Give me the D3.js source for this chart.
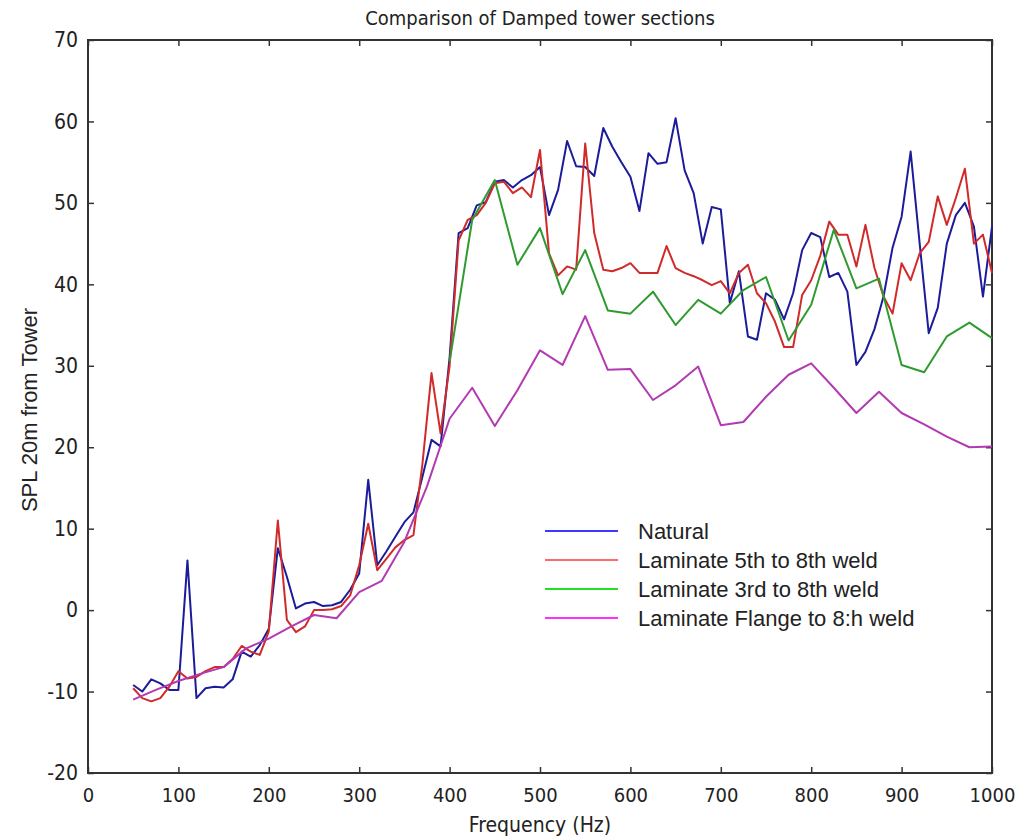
<!DOCTYPE html>
<html>
<head>
<meta charset="utf-8">
<script src="https://cdn.jsdelivr.net/npm/d3@7"></script>
<style>
  body { margin: 0; background: #fff; }
  .tick text { font-family: "DejaVu Sans Condensed", "DejaVu Sans", sans-serif; fill: #222; }
</style>
</head>
<body>
<div id="chart"></div>
<script>
// frequencies (Hz) for the two finely sampled series
var freqFine = [50, 60, 70, 80, 90, 100, 110, 120, 130, 140, 150, 160, 170, 180, 190, 200,
  210, 220, 230, 240, 250, 260, 270, 280, 290, 300, 310, 320, 330, 340, 350, 360, 370, 380, 390, 400,
  410, 420, 430, 440, 450, 460, 470, 480, 490, 500, 510, 520, 530, 540, 550, 560, 570, 580, 590, 600,
  610, 620, 630, 640, 650, 660, 670, 680, 690, 700, 710, 720, 730, 740, 750, 760, 770, 780, 790, 800,
  810, 820, 830, 840, 850, 860, 870, 880, 890, 900, 910, 920, 930, 940, 950, 960, 970, 980, 990, 1000];

// frequencies (Hz) for the coarser series
var freqCoarse = [50, 75, 100, 125, 150, 175, 200, 225, 250, 275, 300, 325, 350, 375, 400, 425, 450,
  475, 500, 525, 550, 575, 600, 625, 650, 675, 700, 725, 750, 775, 800, 825, 850, 875, 900, 925, 950, 975, 1000];

var freqGreen = [400, 425, 450, 475, 500, 525, 550, 575, 600, 625, 650, 675, 700, 725, 750,
  775, 800, 825, 850, 875, 900, 925, 950, 975, 1000];

var natural = [-9.2, -10.0, -8.5, -9.0, -9.8, -9.8, 6.1, -10.8, -9.6, -9.4, -9.5, -8.5, -5.1, -5.7, -4.3, -2.3,
  7.6, 4.1, 0.2, 0.8, 1.0, 0.5, 0.6, 1.0, 2.5, 4.5, 16.0, 5.5, 7.2, 9.0, 10.8, 12.0, 16.4, 20.9, 20.1, 31.0,
  46.3, 46.9, 49.7, 50.1, 52.6, 52.8, 51.9, 52.8, 53.4, 54.4, 48.5, 51.6, 57.6, 54.5, 54.4, 53.3, 59.2, 56.9, 55.0, 53.2,
  49.0, 56.1, 54.8, 55.0, 60.4, 54.0, 51.2, 45.0, 49.5, 49.2, 37.7, 41.6, 33.6, 33.2, 38.9, 38.1, 35.7, 38.9, 44.2, 46.3,
  45.8, 40.9, 41.4, 39.1, 30.1, 31.7, 34.5, 38.5, 44.5, 48.3, 56.3, 45.0, 34.0, 37.1, 45.0, 48.5, 50.0, 47.1, 38.5, 47.1];

var lam5to8 = [-9.6, -10.8, -11.2, -10.8, -9.4, -7.5, -8.4, -8.2, -7.5, -7.0, -7.0, -6.0, -4.4, -5.1, -5.5, -2.6,
  11.0, -1.2, -2.7, -2.0, 0.0, 0.0, 0.1, 0.5, 1.8, 5.5, 10.6, 4.9, 6.3, 7.7, 8.6, 9.2, 18.0, 29.1, 21.7, 30.0,
  45.4, 47.9, 48.5, 50.0, 52.4, 52.6, 51.2, 51.9, 50.7, 56.5, 43.8, 41.1, 42.2, 41.8, 57.3, 46.3, 41.8, 41.6, 42.0, 42.6,
  41.4, 41.4, 41.4, 44.7, 42.0, 41.4, 41.0, 40.5, 39.9, 40.4, 38.9, 41.4, 42.4, 38.9, 37.7, 35.4, 32.3, 32.3, 38.7, 40.5,
  43.5, 47.7, 46.1, 46.1, 42.2, 47.3, 42.0, 38.5, 36.4, 42.6, 40.5, 43.8, 45.2, 50.8, 47.3, 50.6, 54.2, 45.0, 46.1, 41.4];

var lam3to8 = [30.5, 47.9, 52.8, 42.4, 46.9, 38.8, 44.2, 36.8, 36.4, 39.1, 35.0, 38.1, 36.4, 39.3, 40.9,
  33.1, 37.5, 46.7, 39.5, 40.7, 30.1, 29.2, 33.6, 35.3, 33.4];

var lamFlange = [-11.0, -9.8, -8.7, -7.8, -7.0, -4.7, -3.5, -2.0, -0.6, -1.0, 2.2, 3.6, 8.4, 15.2, 23.5, 27.3, 22.6,
  27.0, 31.9, 30.1, 36.1, 29.5, 29.6, 25.8, 27.6, 29.9, 22.7, 23.1, 26.2, 28.9, 30.3, 27.3, 24.2, 26.8, 24.2, 22.8, 21.3, 20.0, 20.1];

var seriesNames = ["Natural", "Laminate 5th to 8th weld", "Laminate 3rd to 8th weld", "Laminate Flange to 8:h weld"];
var lineColors = ["#1c1c9a", "#d12a2a", "#2f9a2f", "#b23ab2"];
var legendColors = ["#3a3aff", "#ff6b6b", "#22e022", "#ff30ff"];
var xTicks = [0, 100, 200, 300, 400, 500, 600, 700, 800, 900, 1000];
var yTicks = [-20, -10, 0, 10, 20, 30, 40, 50, 60, 70];

var svgWidth = 1032, svgHeight = 838;
var plotLeft = 88, plotRight = 992, plotTop = 40, plotBottom = 773;

var svg = d3.select("#chart").append("svg")
  .attr("width", svgWidth)
  .attr("height", svgHeight);

var x = d3.scaleLinear().domain([0, 1000]).range([plotLeft, plotRight]);
var y = d3.scaleLinear().domain([-20, 70]).range([plotBottom, plotTop]);

// axes with inward ticks on all four sides
svg.append("g")
  .attr("transform", "translate(0," + plotBottom + ")")
  .call(d3.axisBottom(x).tickValues(xTicks).tickSizeInner(-6).tickSizeOuter(0).tickPadding(15)
    .tickFormat(function (d) { return String(d); }))
  .call(function (g) { g.select(".domain").remove(); })
  .selectAll("text").style("font-size", "20px");

svg.append("g")
  .attr("transform", "translate(0," + plotTop + ")")
  .call(d3.axisTop(x).tickValues(xTicks).tickSizeInner(-6).tickSizeOuter(0).tickFormat(""))
  .call(function (g) { g.select(".domain").remove(); });

svg.append("g")
  .attr("transform", "translate(" + plotLeft + ",0)")
  .call(d3.axisLeft(y).tickValues(yTicks).tickSizeInner(-6).tickSizeOuter(0).tickPadding(10)
    .tickFormat(function (d) { return String(d); }))
  .call(function (g) { g.select(".domain").remove(); })
  .selectAll("text").style("font-size", "21px");

svg.append("g")
  .attr("transform", "translate(" + plotRight + ",0)")
  .call(d3.axisRight(y).tickValues(yTicks).tickSizeInner(-6).tickSizeOuter(0).tickFormat(""))
  .call(function (g) { g.select(".domain").remove(); });

svg.selectAll(".tick line").attr("stroke", "#333").attr("stroke-width", 1.5);

// frame
svg.append("rect")
  .attr("x", plotLeft).attr("y", plotTop)
  .attr("width", plotRight - plotLeft).attr("height", plotBottom - plotTop)
  .attr("fill", "none")
  .attr("stroke", "#333")
  .attr("stroke-width", 2);

var line = d3.line()
  .x(function (d) { return x(d[0]); })
  .y(function (d) { return y(d[1]); });

var series = [
  d3.zip(freqFine, natural),
  d3.zip(freqFine, lam5to8),
  d3.zip(freqGreen, lam3to8),
  d3.zip(freqCoarse, lamFlange)
];

svg.append("g").selectAll("path")
  .data(series)
  .join("path")
  .attr("d", line)
  .attr("fill", "none")
  .attr("stroke", function (d, i) { return lineColors[i]; })
  .attr("stroke-width", 2)
  .attr("stroke-linejoin", "round");

// legend
var legend = svg.append("g").attr("transform", "translate(545,531)");
var item = legend.selectAll("g")
  .data(seriesNames)
  .join("g")
  .attr("transform", function (d, i) { return "translate(0," + (i * 29) + ")"; });
item.append("line")
  .attr("x1", 0).attr("x2", 73)
  .attr("stroke", function (d, i) { return legendColors[i]; })
  .attr("stroke-width", 2);
item.append("text")
  .attr("x", 93)
  .attr("dy", "0.35em")
  .style("font", "22px 'Liberation Sans', Arial, sans-serif")
  .attr("fill", "#222")
  .text(function (d) { return d; });

// titles
svg.append("text")
  .attr("x", (plotLeft + plotRight) / 2)
  .attr("y", 25)
  .attr("text-anchor", "middle")
  .style("font", "20px 'DejaVu Sans Condensed', sans-serif")
  .attr("fill", "#222")
  .text("Comparison of Damped tower sections");

svg.append("text")
  .attr("x", (plotLeft + plotRight) / 2)
  .attr("y", 832)
  .attr("text-anchor", "middle")
  .style("font", "21px 'DejaVu Sans Condensed', sans-serif")
  .attr("fill", "#222")
  .text("Frequency (Hz)");

svg.append("text")
  .attr("transform", "translate(37,410) rotate(-90)")
  .attr("text-anchor", "middle")
  .style("font", "22px 'Liberation Sans', Arial, sans-serif")
  .attr("fill", "#222")
  .text("SPL 20m from Tower");
</script>
</body>
</html>
